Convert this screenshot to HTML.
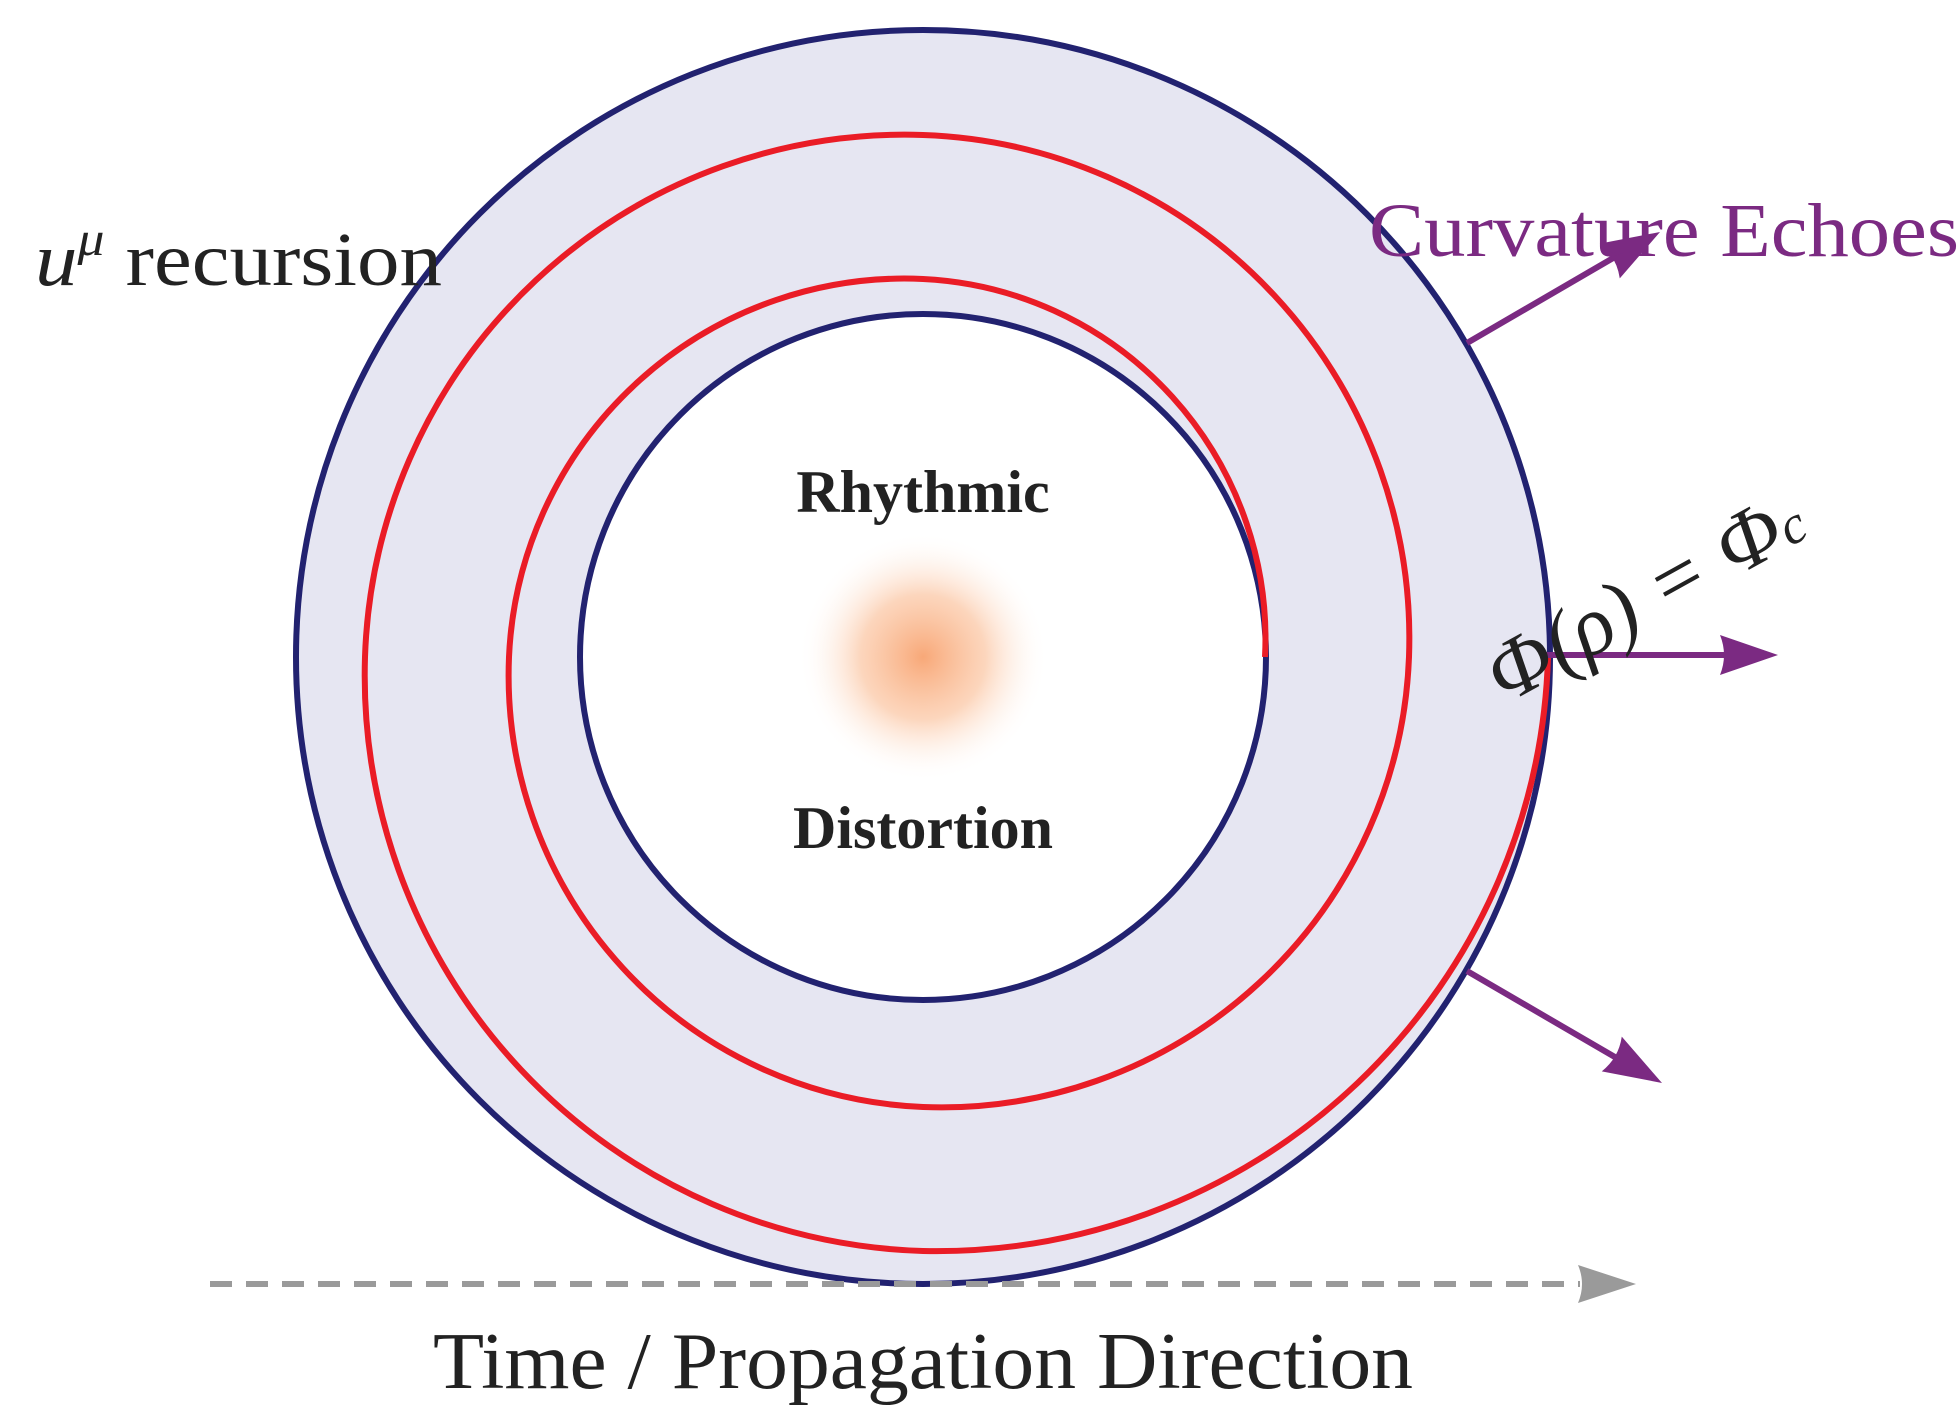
<!DOCTYPE html>
<html><head><meta charset="utf-8"><style>
html,body{margin:0;padding:0;background:#fff}
svg{display:block}
</style></head><body>
<svg width="1959" height="1419" viewBox="0 0 1959 1419" xmlns="http://www.w3.org/2000/svg">
<defs>
<radialGradient id="g" cx="50%" cy="50%" r="50%">
<stop offset="0" stop-color="#f8a878"/>
<stop offset="0.5" stop-color="#fbc4a0" stop-opacity="0.7"/>
<stop offset="1" stop-color="#ffffff" stop-opacity="0"/>
</radialGradient>
</defs>
<circle cx="923" cy="657" r="627" fill="#e6e6f2" stroke="#222270" stroke-width="6"/>
<circle cx="923" cy="657" r="343" fill="#ffffff" stroke="#222270" stroke-width="6"/>
<circle cx="923" cy="657" r="125" fill="url(#g)"/>
<path d="M1265 657 A360 360 0 0 0 923 279 A396 396 0 0 0 509 657 A432 432 0 0 0 923 1107 A468 468 0 0 0 1409 657 A504 504 0 0 0 923 135 A540 540 0 0 0 365 657 A576 576 0 0 0 923 1251 A612 612 0 0 0 1548 657" fill="none" stroke="#ea1c26" stroke-width="6"/>
<g stroke="#7b2a82" stroke-width="6" fill="none">
<line x1="1467" y1="343" x2="1620" y2="254"/>
<line x1="1545" y1="655" x2="1725" y2="655"/>
<line x1="1467" y1="971" x2="1620" y2="1060"/>
</g>
<g fill="#7b2a82">
<path transform="translate(1660,232) rotate(-30)" d="M0 0 L-58 -20 Q-50 0 -58 20 Z"/>
<path transform="translate(1778,655)" d="M0 0 L-58 -20 Q-50 0 -58 20 Z"/>
<path transform="translate(1662,1083) rotate(30)" d="M0 0 L-58 -20 Q-50 0 -58 20 Z"/>
</g>
<line x1="210" y1="1284" x2="1580" y2="1284" stroke="#9a9a9a" stroke-width="6" stroke-dasharray="22 14"/>
<path d="M1636 1284 L1578 1303 Q1586 1284 1578 1265 Z" fill="#9a9a9a"/>
<text x="923" y="512" text-anchor="middle" font-family="Liberation Serif, serif" font-weight="bold" font-size="60" fill="#222">Rhythmic</text>
<text x="923" y="848" text-anchor="middle" font-family="Liberation Serif, serif" font-weight="bold" font-size="60" fill="#222">Distortion</text>
<text x="35" y="285" font-family="Liberation Serif, serif" font-size="76" fill="#222" textLength="407" lengthAdjust="spacingAndGlyphs"><tspan font-style="italic">u</tspan><tspan font-style="italic" font-size="48" dy="-30">μ</tspan><tspan dy="30"> recursion</tspan></text>
<text x="1369" y="256" font-family="Liberation Serif, serif" font-size="76" fill="#7b2a82" textLength="590" lengthAdjust="spacingAndGlyphs">Curvature Echoes</text>
<text x="433" y="1388" font-family="Liberation Serif, serif" font-size="80" fill="#222" textLength="980" lengthAdjust="spacingAndGlyphs">Time / Propagation Direction</text>
<text transform="translate(1505,705) rotate(-29)" font-family="Liberation Serif, serif" font-style="italic" font-size="84" fill="#222" textLength="350" lengthAdjust="spacingAndGlyphs">Φ(ρ) = Φ<tspan font-size="54">c</tspan></text>
</svg>
</body></html>
